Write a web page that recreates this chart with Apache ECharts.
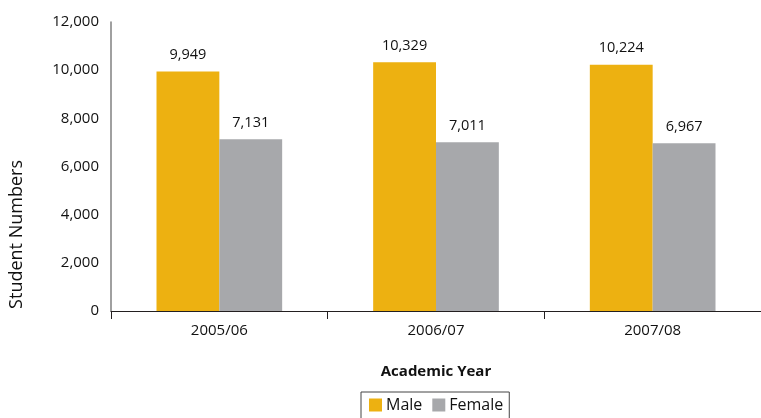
<!DOCTYPE html>
<html><head><meta charset="utf-8">
<script src="https://cdn.jsdelivr.net/npm/echarts@6/dist/echarts.min.js"></script>
<style>html,body{margin:0;padding:0;background:#fff}#c{width:761px;height:418px}</style>
</head><body><div id="c"></div>
<script>
const categories = ['2005/06', '2006/07', '2007/08'];
const maleValues = [9949, 10329, 10224];
const femaleValues = [7131, 7011, 6967];
const yTicks = [0, 2000, 4000, 6000, 8000, 10000, 12000];

const FONT = "'Open Sans', sans-serif";
const TXT = '#111';
const chart = echarts.init(document.getElementById('c'));
const fmt = v => v.toLocaleString('en-US');
chart.setOption({
  animation: false,
  textStyle: { fontFamily: FONT },
  grid: { left: 111, right: -2, top: 22, bottom: 107, containLabel: false },
  legend: {
    data: ['Male', 'Female'],
    top: 392, left: 361,
    borderColor: '#444', borderWidth: 1,
    padding: [5, 6, 12, 8],
    itemWidth: 13, itemHeight: 13, itemGap: 10,
    icon: 'rect',
    textStyle: { fontFamily: FONT, fontSize: 16, color: TXT, padding: [0, 0, 0, -1] }
  },
  xAxis: {
    type: 'category', data: categories,
    name: 'Academic Year', nameLocation: 'middle', nameGap: 53,
    nameTextStyle: { fontFamily: FONT, fontSize: 15, fontWeight: 'bold', color: TXT },
    axisLine: { lineStyle: { color: '#231f20', width: 1 } },
    axisTick: { show: true, length: 8, lineStyle: { color: '#231f20' } },
    axisLabel: { fontFamily: FONT, fontSize: 15, color: TXT, margin: 12 }
  },
  yAxis: {
    type: 'value', min: 0, max: 12000, interval: 2000,
    axisLine: { show: true, lineStyle: { color: '#808080', width: 1.5 } },
    axisTick: { show: false },
    splitLine: { show: false },
    axisLabel: { fontFamily: FONT, fontSize: 15, color: TXT, margin: 12, formatter: v => fmt(v) }
  },
  graphic: [{
    type: 'text', left: 8, top: 160,
    rotation: Math.PI / 2, originX: 0, originY: 0,
    style: { text: 'Student Numbers', font: "18px 'Open Sans', sans-serif", fill: TXT }
  }],
  series: [
    { name: 'Male', type: 'bar', data: maleValues, barWidth: '29%', barGap: '0%',
      itemStyle: { color: '#EDB111' },
      label: { show: true, position: 'top', distance: 9, fontFamily: FONT, fontSize: 14.5, color: TXT, formatter: p => fmt(p.value) } },
    { name: 'Female', type: 'bar', data: femaleValues, barWidth: '29%', barGap: '0%',
      itemStyle: { color: '#A7A8AB' },
      label: { show: true, position: 'top', distance: 9, fontFamily: FONT, fontSize: 14.5, color: TXT, formatter: p => fmt(p.value) } }
  ]
});
</script></body></html>
